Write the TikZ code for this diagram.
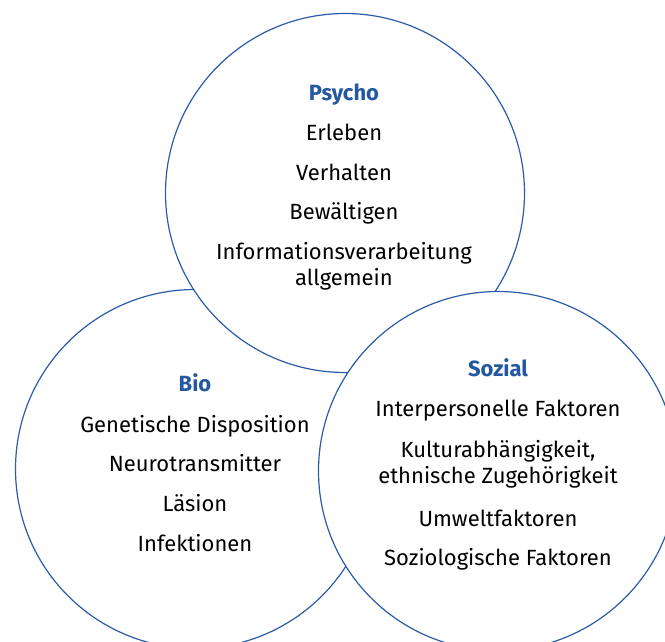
\documentclass[tikz,border=0pt]{standalone}
\usepackage{fontspec}
\setmainfont{Fira Sans}
\definecolor{ringblue}{RGB}{44,92,168}
\definecolor{titleblue}{RGB}{36,88,160}
\begin{document}
\begin{tikzpicture}[x=1pt,y=-1pt,
  ring/.style={circle,draw=ringblue,line width=1.2pt,fill=white,minimum size=359pt,inner sep=0pt},
  title/.style={anchor=base,text=titleblue,font=\fontsize{22}{26}\selectfont\bfseries},
  item/.style={anchor=base,align=center,font=\fontsize{22}{26}\selectfont}]
\useasboundingbox (0,0) rectangle (665,641);
\node[ring] (bio) at (195,469) {};
\node[ring] (psycho) at (345,193) {};
\node[ring] (sozial) at (498,471) {};
% Psycho
\node[title] (pt) at (344,100) {Psycho};
\node[item] (p1) at (344,140) {Erleben};
\node[item] (p2) at (344,180) {Verhalten};
\node[item] (p3) at (344,219) {Bewältigen};
\node[item] (p4) at (344,285) {Informationsverarbeitung\\allgemein};
% Bio
\node[title] (bt) at (195,391) {Bio};
\node[item] (b1) at (195,432) {Genetische Disposition};
\node[item] (b2) at (195,471) {Neurotransmitter};
\node[item] (b3) at (195,511) {Läsion};
\node[item] (b4) at (195,551) {Infektionen};
% Sozial
\node[title] (st) at (498,376) {Sozial};
\node[item] (s1) at (498,416) {Interpersonelle Faktoren};
\node[item] (s2) at (498,483) {Kulturabhängigkeit,\\ethnische Zugehörigkeit};
\node[item] (s3) at (498,526) {Umweltfaktoren};
\node[item] (s4) at (498,565) {Soziologische Faktoren};
\end{tikzpicture}
\end{document}
